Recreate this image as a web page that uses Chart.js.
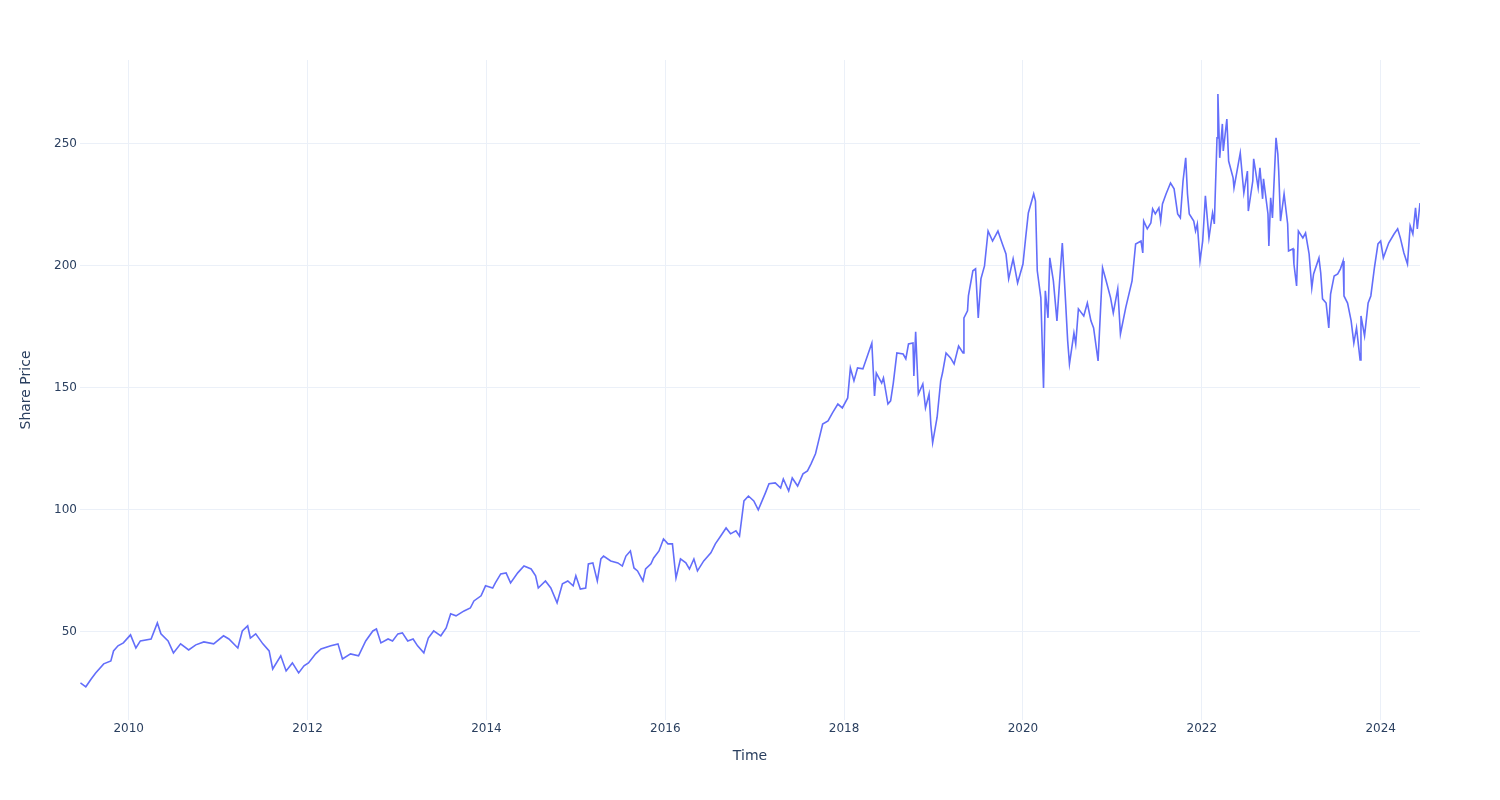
<!DOCTYPE html>
<html>
<head>
<meta charset="utf-8">
<title>Share Price</title>
<script src="https://cdn.jsdelivr.net/npm/chart.js@4.4.1/dist/chart.umd.min.js"></script>
<style>
  html, body { margin: 0; padding: 0; background: #fff; }
  #wrap { width: 1500px; height: 800px; }
</style>
</head>
<body>
<div id="wrap"><canvas id="priceChart" width="1500" height="800"></canvas></div>
<script>
// dates as decimal years
const years = [
  2009.46, 2009.52, 2009.58, 2009.63, 2009.72, 2009.80, 2009.83, 2009.88, 2009.94, 2010.02,
  2010.08, 2010.13, 2010.25, 2010.32, 2010.36, 2010.44, 2010.50, 2010.58, 2010.67, 2010.75,
  2010.84, 2010.95, 2011.06, 2011.12, 2011.22, 2011.27, 2011.33, 2011.36, 2011.42, 2011.50,
  2011.57, 2011.61, 2011.70, 2011.76, 2011.83, 2011.90, 2011.96, 2012.01, 2012.09, 2012.15,
  2012.26, 2012.34, 2012.39, 2012.48, 2012.57, 2012.65, 2012.73, 2012.77, 2012.82, 2012.90,
  2012.95, 2013.01, 2013.06, 2013.12, 2013.18, 2013.23, 2013.30, 2013.35, 2013.41, 2013.49,
  2013.55, 2013.60, 2013.66, 2013.75, 2013.82, 2013.86, 2013.94, 2013.99, 2014.07, 2014.10,
  2014.16, 2014.22, 2014.27, 2014.35, 2014.42, 2014.50, 2014.55, 2014.58, 2014.66, 2014.72,
  2014.79, 2014.85, 2014.91, 2014.97, 2015.00, 2015.05, 2015.11, 2015.14, 2015.19, 2015.24,
  2015.28, 2015.31, 2015.39, 2015.47, 2015.52, 2015.56, 2015.61, 2015.65, 2015.69, 2015.75,
  2015.78, 2015.84, 2015.87, 2015.93, 2015.98, 2016.03, 2016.08, 2016.12, 2016.17, 2016.23,
  2016.27, 2016.32, 2016.36, 2016.43, 2016.51, 2016.56, 2016.62, 2016.68, 2016.73, 2016.79,
  2016.83, 2016.88, 2016.93, 2016.99, 2017.04, 2017.12, 2017.16, 2017.23, 2017.29, 2017.32,
  2017.38, 2017.42, 2017.48, 2017.54, 2017.59, 2017.63, 2017.68, 2017.72, 2017.76, 2017.82,
  2017.87, 2017.93, 2017.98, 2018.04, 2018.07, 2018.11, 2018.15, 2018.21, 2018.26, 2018.31,
  2018.34, 2018.36, 2018.42, 2018.44, 2018.49, 2018.52, 2018.55, 2018.59, 2018.66, 2018.69,
  2018.72, 2018.77, 2018.78, 2018.80, 2018.83, 2018.88, 2018.91, 2018.95, 2018.97, 2018.99,
  2019.04, 2019.08, 2019.10, 2019.14, 2019.19, 2019.23, 2019.28, 2019.33, 2019.34, 2019.38,
  2019.39, 2019.44, 2019.47, 2019.50, 2019.53, 2019.57, 2019.61, 2019.66, 2019.72, 2019.77,
  2019.81, 2019.84, 2019.89, 2019.94, 2020.00, 2020.03, 2020.06, 2020.12, 2020.14, 2020.16,
  2020.20, 2020.23, 2020.25, 2020.28, 2020.30, 2020.34, 2020.38, 2020.41, 2020.44, 2020.47,
  2020.50, 2020.52, 2020.57, 2020.59, 2020.62, 2020.68, 2020.72, 2020.76, 2020.79, 2020.84,
  2020.89, 2020.93, 2020.98, 2021.01, 2021.06, 2021.09, 2021.15, 2021.22, 2021.26, 2021.32,
  2021.34, 2021.35, 2021.39, 2021.43, 2021.45, 2021.48, 2021.52, 2021.54, 2021.56, 2021.60,
  2021.65, 2021.69, 2021.73, 2021.76, 2021.79, 2021.82, 2021.84, 2021.86, 2021.91, 2021.93,
  2021.95, 2021.98, 2022.01, 2022.04, 2022.08, 2022.12, 2022.14, 2022.17, 2022.18, 2022.20,
  2022.23, 2022.24, 2022.28, 2022.30, 2022.35, 2022.36, 2022.40, 2022.43, 2022.47, 2022.51,
  2022.52, 2022.57, 2022.58, 2022.63, 2022.65, 2022.68, 2022.69, 2022.74, 2022.75, 2022.77,
  2022.79, 2022.83, 2022.85, 2022.86, 2022.88, 2022.92, 2022.96, 2022.97, 2023.02, 2023.03,
  2023.06, 2023.08, 2023.13, 2023.16, 2023.20, 2023.23, 2023.25, 2023.31, 2023.33, 2023.35,
  2023.39, 2023.42, 2023.44, 2023.48, 2023.52, 2023.55, 2023.58, 2023.59, 2023.63, 2023.67,
  2023.70, 2023.73, 2023.77, 2023.78, 2023.82, 2023.86, 2023.89, 2023.93, 2023.97, 2024.00,
  2024.03, 2024.09, 2024.15, 2024.19, 2024.22, 2024.26, 2024.30, 2024.33, 2024.36, 2024.39,
  2024.41, 2024.44, 2024.45
];

const prices = [
  29.1, 27.5, 30.7, 33.2, 36.9, 38.1, 42.2, 44.3, 45.5, 48.8,
  43.4, 46.3, 47.1, 53.7, 49.2, 46.3, 41.4, 45.1, 42.6, 44.7,
  45.9, 45.1, 48.4, 47.1, 43.4, 50.4, 52.5, 47.5, 49.2, 45.1,
  42.2, 34.8, 40.2, 34.0, 37.3, 33.2, 36.1, 37.3, 41.0, 43.0,
  44.3, 45.1, 38.9, 41.0, 40.2, 46.3, 50.4, 51.2, 45.5, 47.1,
  46.3, 49.2, 49.6, 46.3, 47.1, 44.3, 41.4, 47.5, 50.4, 48.4,
  51.6, 57.4, 56.6, 58.6, 59.8, 62.7, 64.8, 68.9, 68.0, 70.1,
  73.8, 74.2, 70.1, 74.2, 77.0, 75.8, 73.0, 68.0, 70.9, 68.0,
  61.9, 69.7, 70.9, 68.9, 73.0, 67.6, 68.0, 77.9, 78.3, 70.9,
  79.9, 81.1, 79.1, 78.3, 77.0, 81.1, 83.2, 76.2, 75.0, 70.9,
  75.8, 77.9, 80.3, 83.2, 88.1, 86.1, 86.1, 72.1, 79.9, 78.3,
  75.8, 79.9, 75.0, 79.1, 82.4, 86.1, 89.3, 92.6, 90.2, 91.4,
  89.3, 103.7, 105.7, 103.7, 100.0, 107.0, 110.7, 111.1, 109.0, 112.7,
  107.8, 113.1, 109.8, 114.8, 116.0, 118.9, 123.0, 129.1, 135.2, 136.5,
  139.8, 143.4, 141.8, 145.9, 158.2, 152.9, 158.2, 157.8, 163.1, 168.4,
  146.7, 156.1, 152.0, 154.1, 143.4, 144.7, 152.0, 164.3, 163.9, 161.9,
  168.0, 168.4, 154.9, 173.0, 147.5, 151.6, 141.8, 147.5, 135.0, 127.5,
  138.0, 152.9, 156.1, 164.3, 162.3, 159.8, 167.2, 164.3, 178.7, 181.6,
  187.7, 198.0, 198.8, 178.7, 194.7, 200.0, 214.3, 210.2, 214.3, 209.0,
  204.9, 194.7, 202.9, 193.0, 200.8, 211.5, 221.7, 229.5, 226.6, 198.0,
  186.9, 150.0, 189.8, 178.7, 203.3, 193.9, 177.5, 193.9, 209.4, 189.8,
  169.3, 159.8, 172.5, 168.0, 182.4, 179.5, 184.8, 177.5, 174.6, 161.1,
  199.2, 193.9, 186.9, 180.7, 190.6, 172.1, 183.0, 193.9, 209.0, 210.2,
  205.3, 218.4, 215.2, 217.6, 223.4, 221.3, 223.8, 218.4, 225.4, 229.5,
  234.0, 231.6, 221.3, 219.7, 234.8, 244.3, 229.5, 221.3, 218.4, 214.3,
  217.2, 202.0, 210.2, 228.7, 211.5, 221.7, 217.2, 252.5, 270.5, 244.3,
  258.2, 247.1, 260.2, 243.0, 236.1, 232.0, 240.2, 246.3, 229.9, 238.9,
  222.5, 234.8, 243.9, 232.0, 240.2, 227.5, 235.7, 221.3, 208.2, 227.9,
  219.7, 252.5, 245.9, 238.9, 218.4, 229.5, 217.2, 206.1, 207.0, 200.8,
  191.8, 214.3, 211.5, 213.5, 204.9, 191.0, 196.7, 203.3, 197.1, 186.5,
  184.8, 174.6, 188.5, 195.9, 196.7, 198.8, 202.0, 187.7, 184.8, 177.5,
  168.4, 174.6, 161.5, 179.5, 171.3, 184.8, 187.7, 199.2, 209.0, 210.2,
  203.3, 209.4, 213.1, 215.2, 211.5, 205.3, 200.8, 216.4, 213.1, 223.8,
  215.2, 225.8, 222.0
];

const xTicks = [2010, 2012, 2014, 2016, 2018, 2020, 2022, 2024];
const yTicks = [50, 100, 150, 200, 250];

const textColor = '#2a3f5f';
const gridColor = '#ebf0f8';
const font = { family: 'DejaVu Sans', size: 12 };

const points = years.map((yr, i) => ({ x: yr, y: prices[i] }));

const ctx = document.getElementById('priceChart').getContext('2d');
const priceChart = new Chart(ctx, {
    type: 'line',
    data: {
        datasets: [{
            label: 'Share Price',
            data: points,
            borderColor: '#636efa',
            borderWidth: 1.6,
            pointRadius: 0,
            tension: 0,
            fill: false
        }]
    },
    options: {
        responsive: false,
        animation: false,
        layout: { padding: { top: 60, right: 80, bottom: 0, left: 0 } },
        plugins: {
            legend: { display: false },
            tooltip: { enabled: false }
        },
        scales: {
            x: {
                type: 'linear',
                min: 2009.455,
                max: 2024.44,
                afterBuildTicks: (scale) => {
                    scale.ticks = xTicks.map(v => ({ value: v }));
                },
                afterFit: (scale) => { scale.height = 80; },
                ticks: {
                    color: textColor,
                    font: font,
                    padding: 2,
                    maxRotation: 0,
                    callback: (v) => String(v)
                },
                grid: { color: gridColor, lineWidth: 1, drawTicks: false },
                border: { display: false },
                title: {
                    display: true,
                    text: 'Time',
                    color: textColor,
                    font: { family: 'DejaVu Sans', size: 14 },
                    padding: { top: 0, bottom: 35 }
                }
            },
            y: {
                min: 13.9,
                max: 284.4,
                afterBuildTicks: (scale) => {
                    scale.ticks = yTicks.map(v => ({ value: v }));
                },
                afterFit: (scale) => { scale.width = 80; },
                ticks: {
                    color: textColor,
                    font: font,
                    padding: 3
                },
                grid: { color: gridColor, lineWidth: 1, drawTicks: false },
                border: { display: false },
                title: {
                    display: true,
                    text: 'Share Price',
                    color: textColor,
                    font: { family: 'DejaVu Sans', size: 14 },
                    padding: { top: 18, bottom: 0 }
                }
            }
        }
    }
});
</script>
</body>
</html>
